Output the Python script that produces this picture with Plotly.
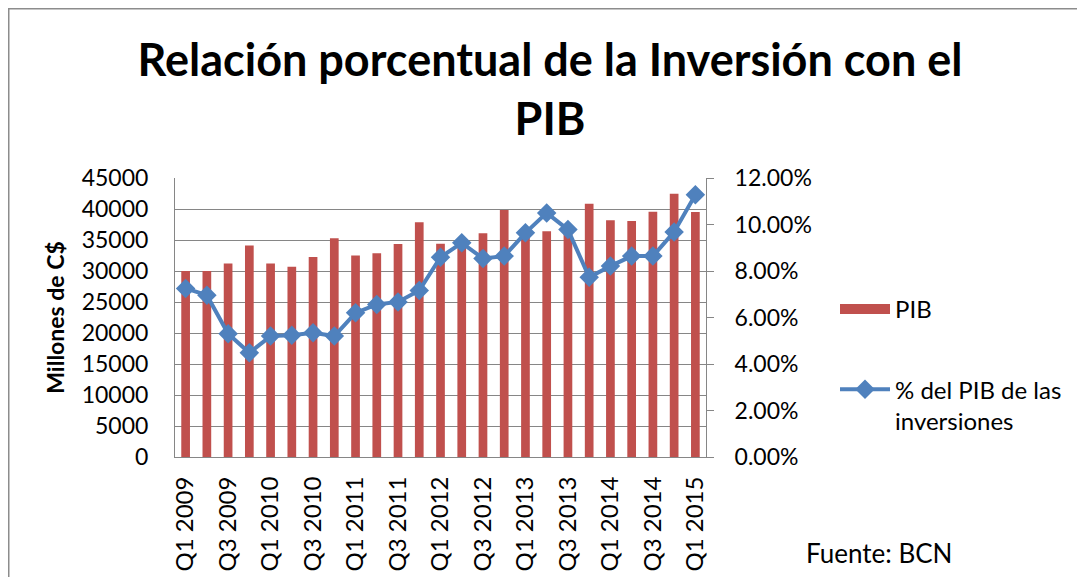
import plotly.graph_objects as go

quarters = ["Q1 2009", "Q2 2009", "Q3 2009", "Q4 2009",
            "Q1 2010", "Q2 2010", "Q3 2010", "Q4 2010",
            "Q1 2011", "Q2 2011", "Q3 2011", "Q4 2011",
            "Q1 2012", "Q2 2012", "Q3 2012", "Q4 2012",
            "Q1 2013", "Q2 2013", "Q3 2013", "Q4 2013",
            "Q1 2014", "Q2 2014", "Q3 2014", "Q4 2014",
            "Q1 2015"]
pib = [30000, 30000, 31200, 34100, 31200, 30700, 32250, 35300,
       32500, 32850, 34350, 37850, 34400, 35300, 36100, 39850,
       36800, 36400, 37000, 40850, 38200, 38050, 39550, 42450, 39500]
pct_inv = [0.0725, 0.0696, 0.0530, 0.0448, 0.0520, 0.0524, 0.0534, 0.0520,
           0.0620, 0.0656, 0.0667, 0.0716, 0.0859, 0.0921, 0.0854, 0.0864,
           0.0964, 0.1050, 0.0978, 0.0773, 0.0821, 0.0864, 0.0864, 0.0968, 0.1128]
tick_labels = quarters[::2]

FONT = "Lato"
GRID = "#868686"
RED = "#C0504D"
BLUE = "#4F81BD"

fig = go.Figure()
fig.add_trace(go.Bar(
    x=quarters, y=pib, name="PIB",
    marker=dict(color=RED, line=dict(width=0)),
    showlegend=False,
))
# legend entry for the bars (wide swatch like the original)
fig.add_trace(go.Scatter(
    x=[None], y=[None], name="PIB", mode="lines",
    line=dict(color=RED, width=14), legendgroup="a",
))
fig.add_trace(go.Scatter(
    x=quarters, y=pct_inv, name="% del PIB de las<br>inversiones",
    yaxis="y2", mode="lines+markers",
    line=dict(color=BLUE, width=4),
    marker=dict(symbol="diamond", size=15, color=BLUE),
    legendgroup="b",
))

# page has an 8px body margin -> figure coords = screen coords - 8
W, H = 1077, 569
L, R, T, B = 167, 698, 170, 449
pw, ph = R - L, B - T

fig.update_layout(
    width=W, height=H,
    margin=dict(l=L, r=W - R, t=T, b=H - B, autoexpand=False),
    paper_bgcolor="white", plot_bgcolor="white",
    font=dict(family=FONT, size=23, color="black"),
    bargap=0.59,
    title=dict(
        text="<b>Relación porcentual de la Inversión con el<br>PIB</b>",
        x=542 / W, xanchor="center", y=1 - 68 / H, yanchor="top",
        font=dict(family=FONT, size=45, color="black"),
    ),
    xaxis=dict(
        type="category",
        tickmode="array", tickvals=tick_labels, ticktext=tick_labels,
        tickangle=-90, showgrid=False,
        showline=True, linecolor=GRID, linewidth=1,
        ticks="", tickfont=dict(size=24),
        ticklabelstandoff=9,
        range=[-0.5, len(quarters) - 0.5],
    ),
    yaxis=dict(
        range=[0, 45000], dtick=5000, tickformat="d",
        showgrid=True, gridcolor=GRID, gridwidth=1,
        showline=True, linecolor=GRID, linewidth=1,
        zeroline=False, ticks="", ticklabelstandoff=21,
        tickfont=dict(size=23),
        title=dict(text="<b>Millones de C$</b>", font=dict(size=23), standoff=10),
    ),
    yaxis2=dict(
        overlaying="y", side="right",
        range=[0, 0.12], dtick=0.02, tickformat=".2%",
        showgrid=False, showline=True, linecolor=GRID, linewidth=1,
        zeroline=False, ticks="outside", ticklen=7, tickcolor=GRID,
        ticklabelstandoff=16, tickfont=dict(size=23),
    ),
    legend=dict(
        x=(827 - L) / pw, xanchor="left",
        y=(B - 279) / ph, yanchor="top",
        font=dict(size=24), tracegroupgap=46, valign="top",
        traceorder="grouped", itemwidth=50,
        bgcolor="rgba(0,0,0,0)",
    ),
    showlegend=True,
)

fig.add_annotation(
    text="Fuente: BCN", xref="paper", yref="paper",
    x=(796 - L) / pw, xanchor="left", y=(B - 545) / ph, yanchor="middle",
    showarrow=False, font=dict(size=26),
)

fig.add_shape(
    type="rect", xref="paper", yref="paper",
    x0=(0.75 - L) / pw, x1=(1071 - L) / pw,
    y0=(B - 620) / ph, y1=(B - 0.75) / ph,
    line=dict(color="#8c8c8c", width=1.5), fillcolor="rgba(0,0,0,0)",
    layer="below",
)

fig.write_html("out.html")
